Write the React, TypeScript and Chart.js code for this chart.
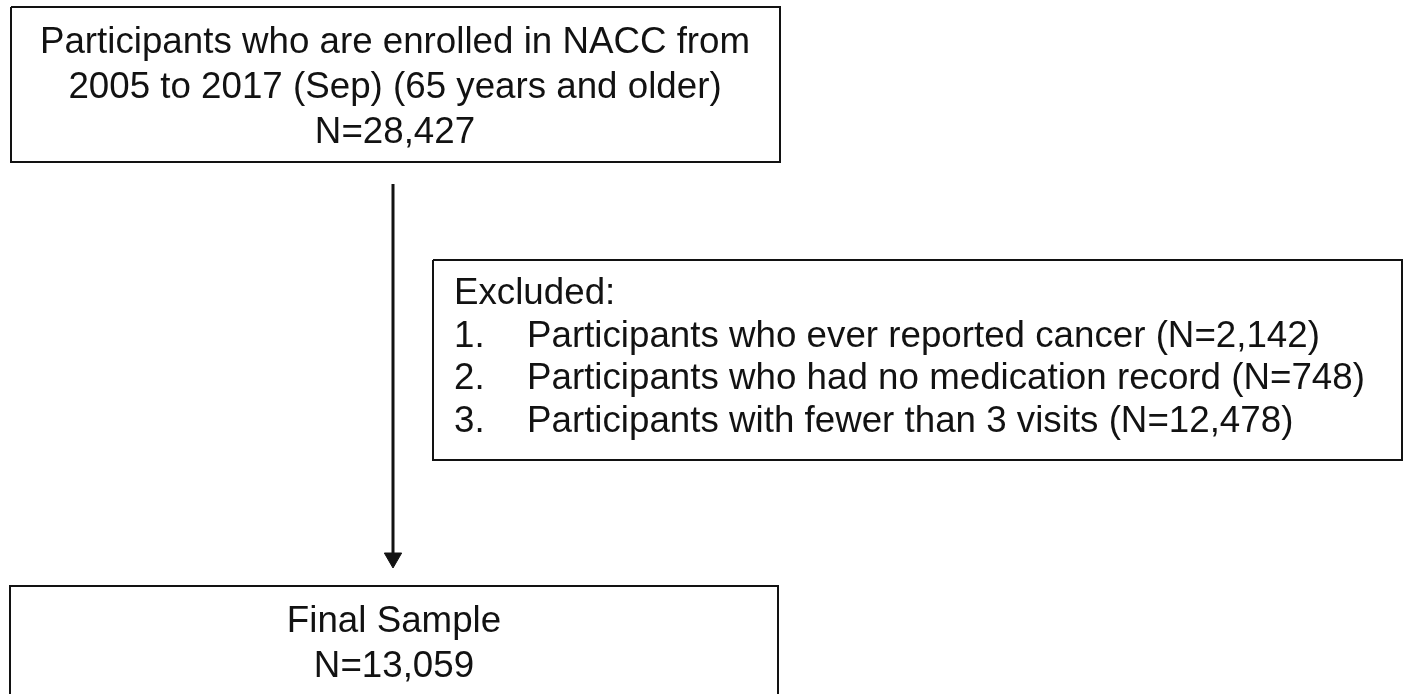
import React, { useEffect, useRef } from "react";
import { Chart, registerables } from "chart.js";

Chart.register(...registerables);

// ---- content (data) ----
const topBoxLines: string[] = [
  "Participants who are enrolled in NACC from",
  "2005 to 2017 (Sep) (65 years and older)",
  "N=28,427",
];
const excludedTitle = "Excluded:";
const excludedNumbers: string[] = ["1.", "2.", "3."];
const excludedReasons: string[] = [
  "Participants who ever reported cancer",
  "Participants who had no medication record",
  "Participants with fewer than 3 visits",
];
const excludedCounts: string[] = ["2,142", "748", "12,478"];
const finalBoxLines: string[] = ["Final Sample", "N=13,059"];

// ---- layout (chart units on hidden linear scales) ----
const W = 1404;
const H = 694;
const layout = {
  topBox: { x0: 11, y0: 7, x1: 780, y1: 162, cx: 395, firstBaseline: 53, lineGap: 45 },
  exclBox: { x0: 433, y0: 260, x1: 1402, y1: 460, numX: 454, textX: 527, firstBaseline: 304, lineGap: 42.7 },
  finalBox: { x0: 10, y0: 586, x1: 778, y1: 700, cx: 394, firstBaseline: 632, lineGap: 45 },
  arrow: { x: 393, y0: 184, y1: 558 },
};
const INK = "#121212";
const FONT = '36px "Liberation Sans", Arial, sans-serif';
const STRETCH = 1.02;

const rect = (b: { x0: number; y0: number; x1: number; y1: number }) => [
  { x: b.x0, y: b.y0 },
  { x: b.x1, y: b.y0 },
  { x: b.x1, y: b.y1 },
  { x: b.x0, y: b.y1 },
  { x: b.x0, y: b.y0 },
];
const openBottomRect = (b: { x0: number; y0: number; x1: number; y1: number }) => [
  { x: b.x0, y: b.y1 },
  { x: b.x0, y: b.y0 },
  { x: b.x1, y: b.y0 },
  { x: b.x1, y: b.y1 },
];

const textPlugin = {
  id: "flowText",
  afterDatasetsDraw(chart: any) {
    const { ctx, scales } = chart;
    const px = (v: number) => scales.x.getPixelForValue(v);
    const py = (v: number) => scales.y.getPixelForValue(v);
    const draw = (t: string, x: number, y: number, align: CanvasTextAlign) => {
      ctx.save();
      ctx.translate(px(x), py(y));
      ctx.scale(STRETCH, 1);
      ctx.font = FONT;
      ctx.fillStyle = INK;
      ctx.textAlign = align;
      ctx.textBaseline = "alphabetic";
      ctx.fillText(t, 0, 0);
      ctx.restore();
    };
    const tb = layout.topBox;
    topBoxLines.forEach((t, i) => draw(t, tb.cx, tb.firstBaseline + i * tb.lineGap, "center"));
    const eb = layout.exclBox;
    draw(excludedTitle, eb.numX, eb.firstBaseline, "left");
    excludedReasons.forEach((r, i) => {
      const y = eb.firstBaseline + (i + 1) * eb.lineGap;
      draw(excludedNumbers[i], eb.numX, y, "left");
      draw(`${r} (N=${excludedCounts[i]})`, eb.textX, y, "left");
    });
    const fb = layout.finalBox;
    finalBoxLines.forEach((t, i) => draw(t, fb.cx, fb.firstBaseline + i * fb.lineGap, "center"));
  },
};

export default function App() {
  const canvasRef = useRef<HTMLCanvasElement | null>(null);

  useEffect(() => {
    if (!canvasRef.current) return;
    const boxStyle = {
      showLine: true,
      borderColor: INK,
      borderWidth: 2,
      pointRadius: 0,
      pointHoverRadius: 0,
      fill: false,
      tension: 0,
      clip: false as any,
    };
    const chart = new Chart(canvasRef.current, {
      type: "scatter",
      data: {
        datasets: [
          { ...boxStyle, data: rect(layout.topBox) },
          { ...boxStyle, data: rect(layout.exclBox) },
          { ...boxStyle, data: openBottomRect(layout.finalBox) },
          {
            showLine: true,
            borderColor: INK,
            borderWidth: 3,
            data: [
              { x: layout.arrow.x, y: layout.arrow.y0 },
              { x: layout.arrow.x, y: layout.arrow.y1 },
            ],
            pointRadius: [0, 10],
            pointHoverRadius: 0,
            pointStyle: "triangle",
            rotation: 180,
            pointBackgroundColor: INK,
            pointBorderColor: INK,
            pointBorderWidth: 1,
            clip: false as any,
          } as any,
        ],
      },
      options: {
        animation: false,
        responsive: false,
        devicePixelRatio: 1,
        layout: { padding: 0, autoPadding: false } as any,
        plugins: { legend: { display: false }, tooltip: { enabled: false } },
        events: [],
        scales: {
          x: { type: "linear", min: 0, max: W, display: false },
          y: { type: "linear", min: 0, max: H, reverse: true, display: false },
        },
      },
      plugins: [textPlugin],
    });
    return () => chart.destroy();
  }, []);

  return (
    <div style={{ position: "absolute", left: 0, top: 0, width: W, height: H, background: "#fff" }}>
      <canvas ref={canvasRef} width={W} height={H} style={{ display: "block" }} />
    </div>
  );
}
